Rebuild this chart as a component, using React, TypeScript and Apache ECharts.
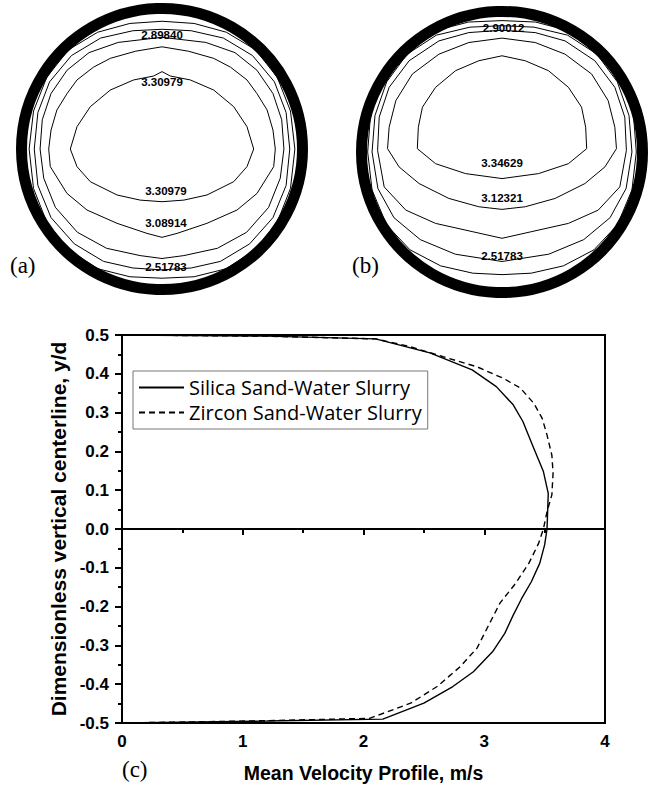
import React, { useEffect, useRef } from 'react';
import * as echarts from 'echarts';

// ---- Panel (c): velocity profiles [velocity m/s, y/d] ----
const silicaProfile: number[][] = [
  [0, 0.5], [1.2, 0.497], [2.1, 0.49], [2.55, 0.454], [2.9, 0.41], [3.1, 0.367], [3.24, 0.32],
  [3.32, 0.277], [3.41, 0.208], [3.49, 0.148], [3.53, 0.092], [3.52, 0.0], [3.5, -0.041],
  [3.46, -0.088], [3.39, -0.136], [3.31, -0.179], [3.24, -0.222], [3.17, -0.269], [3.07, -0.316],
  [2.91, -0.368], [2.74, -0.406], [2.5, -0.449], [2.16, -0.49], [1.2, -0.495], [0, -0.5],
];
const zirconProfile: number[][] = [
  [0, 0.5], [1.2, 0.497], [2.1, 0.49], [2.385, 0.47], [2.66, 0.444], [2.94, 0.418], [3.16, 0.388],
  [3.3, 0.363], [3.41, 0.324], [3.48, 0.285], [3.52, 0.242], [3.56, 0.19], [3.57, 0.144],
  [3.56, 0.088], [3.52, 0.045], [3.49, 0.0], [3.45, -0.037], [3.37, -0.088], [3.26, -0.14],
  [3.13, -0.191], [3.03, -0.252], [2.94, -0.307], [2.8, -0.355], [2.61, -0.406], [2.39, -0.449],
  [2.05, -0.488], [1.2, -0.494], [0, -0.5],
];
const seriesNames = ['Silica Sand-Water Slurry', 'Zircon Sand-Water Slurry'];

// ---- Panel (a): contour lines, normalised pipe coordinates ----
const contourA1 = [
  [-0.628, 0], [-0.582, 0.153], [-0.491, 0.29], [-0.354, 0.404], [-0.194, 0.473], [-0.057, 0.5],
  [0, 0.53], [0.057, 0.5], [0.194, 0.473], [0.354, 0.404], [0.491, 0.29], [0.582, 0.153],
  [0.628, 0], [0.582, -0.121], [0.491, -0.224], [0.308, -0.315], [0.15, -0.35], [0, -0.361],
  [-0.15, -0.35], [-0.308, -0.315], [-0.491, -0.224], [-0.582, -0.121], [-0.628, 0],
];
const contourA2 = [
  [-0.776, 0], [-0.76, 0.13], [-0.72, 0.267], [-0.65, 0.38], [-0.582, 0.473], [-0.47, 0.56],
  [-0.354, 0.621], [-0.18, 0.67], [0, 0.7], [0.18, 0.67], [0.354, 0.621], [0.47, 0.56],
  [0.582, 0.473], [0.65, 0.38], [0.72, 0.267], [0.76, 0.13], [0.776, 0], [0.765, -0.121],
  [0.651, -0.304], [0.514, -0.418], [0.308, -0.509], [0.103, -0.578], [0, -0.605],
  [-0.103, -0.578], [-0.308, -0.509], [-0.514, -0.418], [-0.651, -0.304], [-0.765, -0.121], [-0.776, 0],
];
const contourA3 = [
  [-0.835, 0], [-0.82, 0.2], [-0.76, 0.38], [-0.65, 0.54], [-0.5, 0.66], [-0.3, 0.73], [0, 0.765],
  [0.3, 0.73], [0.5, 0.66], [0.65, 0.54], [0.76, 0.38], [0.82, 0.2], [0.835, 0], [0.81, -0.2],
  [0.73, -0.4], [0.58, -0.57], [0.38, -0.68], [0.15, -0.73], [0, -0.75], [-0.15, -0.73],
  [-0.38, -0.68], [-0.58, -0.57], [-0.73, -0.4], [-0.81, -0.2], [-0.835, 0],
];
const contourA4 = [
  [-0.875, 0], [-0.85, 0.25], [-0.77, 0.46], [-0.62, 0.64], [-0.42, 0.76], [-0.2, 0.81], [0, 0.82],
  [0.2, 0.81], [0.42, 0.76], [0.62, 0.64], [0.77, 0.46], [0.85, 0.25], [0.875, 0], [0.85, -0.25],
  [0.76, -0.47], [0.6, -0.65], [0.4, -0.77], [0.2, -0.815], [0, -0.828], [-0.2, -0.815],
  [-0.4, -0.77], [-0.6, -0.65], [-0.76, -0.47], [-0.85, -0.25], [-0.875, 0],
];
const contourA5 = [
  [-0.91, 0], [-0.88, 0.26], [-0.79, 0.49], [-0.64, 0.68], [-0.44, 0.8], [-0.22, 0.86], [0, 0.875],
  [0.22, 0.86], [0.44, 0.8], [0.64, 0.68], [0.79, 0.49], [0.88, 0.26], [0.91, 0], [0.88, -0.27],
  [0.79, -0.5], [0.64, -0.69], [0.44, -0.82], [0.22, -0.875], [0, -0.885], [-0.22, -0.875],
  [-0.44, -0.82], [-0.64, -0.69], [-0.79, -0.5], [-0.88, -0.27], [-0.91, 0],
];
const contourLabelsA = [
  { name: '2.89840', value: [0, 0.78] },
  { name: '3.30979', value: [0, 0.461] },
  { name: '3.30979', value: [0.027, -0.285] },
  { name: '3.08914', value: [0.027, -0.505] },
  { name: '2.51783', value: [0.027, -0.806] },
];

// ---- Panel (b): contour lines ----
const contourB1 = [
  [-0.58, 0.023], [-0.573, 0.17], [-0.545, 0.307], [-0.455, 0.443], [-0.318, 0.557], [-0.159, 0.625],
  [0, 0.659], [0.159, 0.625], [0.318, 0.557], [0.455, 0.443], [0.545, 0.307], [0.573, 0.17],
  [0.58, 0.023], [0.455, -0.08], [0.25, -0.148], [0, -0.182], [-0.25, -0.148], [-0.455, -0.08], [-0.58, 0.023],
];
const contourB2 = [
  [-0.784, 0.023], [-0.773, 0.17], [-0.727, 0.352], [-0.614, 0.534], [-0.432, 0.67], [-0.227, 0.75],
  [0, 0.78], [0.227, 0.75], [0.432, 0.67], [0.614, 0.534], [0.727, 0.352], [0.773, 0.17],
  [0.784, 0.023], [0.705, -0.102], [0.568, -0.216], [0.364, -0.318], [0.159, -0.375], [0, -0.393],
  [-0.159, -0.375], [-0.364, -0.318], [-0.568, -0.216], [-0.705, -0.102], [-0.784, 0.023],
];
const contourB3 = [
  [-0.852, 0.011], [-0.841, 0.239], [-0.773, 0.443], [-0.636, 0.625], [-0.432, 0.761], [-0.227, 0.818],
  [0, 0.834], [0.227, 0.818], [0.432, 0.761], [0.636, 0.625], [0.773, 0.443], [0.841, 0.239],
  [0.852, 0.011], [0.807, -0.239], [0.659, -0.398], [0.455, -0.489], [0.205, -0.545], [0, -0.591],
  [-0.205, -0.545], [-0.455, -0.489], [-0.659, -0.398], [-0.807, -0.239], [-0.852, 0.011],
];
const contourB4 = [
  [-0.89, 0], [-0.87, 0.25], [-0.79, 0.48], [-0.65, 0.67], [-0.45, 0.8], [-0.22, 0.855], [0, 0.865],
  [0.22, 0.855], [0.45, 0.8], [0.65, 0.67], [0.79, 0.48], [0.87, 0.25], [0.89, 0], [0.85, -0.25],
  [0.74, -0.45], [0.56, -0.6], [0.32, -0.7], [0, -0.75], [-0.32, -0.7], [-0.56, -0.6], [-0.74, -0.45],
  [-0.85, -0.25], [-0.89, 0],
];
const contourB5 = [
  [-0.92, 0], [-0.9, 0.26], [-0.82, 0.5], [-0.67, 0.7], [-0.46, 0.83], [-0.23, 0.89], [0, 0.9],
  [0.23, 0.89], [0.46, 0.83], [0.67, 0.7], [0.82, 0.5], [0.9, 0.26], [0.92, 0], [0.89, -0.26],
  [0.79, -0.5], [0.63, -0.67], [0.42, -0.78], [0.2, -0.83], [0, -0.84], [-0.2, -0.83], [-0.42, -0.78],
  [-0.63, -0.67], [-0.79, -0.5], [-0.89, -0.26], [-0.92, 0],
];
const contourLabelsB = [
  { name: '2.90012', value: [0.011, 0.852] },
  { name: '3.34629', value: [0, -0.073] },
  { name: '3.12321', value: [0, -0.314] },
  { name: '2.51783', value: [0, -0.711] },
];
const pipeCentre = [[0, 0]];

const SANS = 'Liberation Sans, Arial, sans-serif';

function contourSeries(data: number[][], idx: number) {
  return {
    type: 'line', xAxisIndex: idx, yAxisIndex: idx, data, symbol: 'none', smooth: false,
    silent: true, lineStyle: { color: '#000', width: 1, opacity: 1 }, z: 3,
  };
}
function wallSeries(idx: number, size: number) {
  return {
    type: 'scatter', xAxisIndex: idx, yAxisIndex: idx, data: pipeCentre, symbol: 'circle',
    symbolSize: size, silent: true, clip: false,
    itemStyle: { color: 'rgba(255,255,255,0)', borderColor: '#000', borderWidth: 11, opacity: 1 }, z: 4,
  };
}
function labelSeries(data: any[], idx: number) {
  return {
    type: 'scatter', xAxisIndex: idx, yAxisIndex: idx, data, symbolSize: 1, silent: true,
    itemStyle: { color: 'rgba(255,255,255,0)', opacity: 1 }, z: 5,
    label: {
      show: true, position: 'inside', formatter: '{b}', color: '#000',
      fontSize: 11.5, fontWeight: 'bold', fontFamily: SANS,
    },
  };
}

export default function App() {
  const ref = useRef<HTMLDivElement>(null);
  useEffect(() => {
    if (!ref.current) return;
    const chart = echarts.init(ref.current, undefined, { renderer: 'svg' });
    const hiddenAxis = (gridIndex: number) => ({ type: 'value', gridIndex, min: -1, max: 1, show: false });
    chart.setOption({
      animation: false,
      backgroundColor: '#fff',
      grid: [
        { left: 16, top: 3, width: 292, height: 292 },
        { left: 356, top: 6, width: 292, height: 292 },
        { left: 122, top: 335, width: 483, height: 388, show: true, borderColor: '#000', borderWidth: 2, backgroundColor: 'transparent' },
      ],
      xAxis: [
        hiddenAxis(0), hiddenAxis(1),
        {
          type: 'value', gridIndex: 2, min: 0, max: 4, interval: 1,
          name: 'Mean Velocity Profile, m/s', nameLocation: 'middle', nameGap: 40,
          nameTextStyle: { fontSize: 19.5, fontWeight: 'bold', fontFamily: SANS, color: '#000' },
          axisLine: { show: true, lineStyle: { color: '#000', width: 2 } },
          axisTick: { show: true, length: 6, lineStyle: { color: '#000', width: 2 } },
          minorTick: { show: true, splitNumber: 2, length: 4, lineStyle: { color: '#000', width: 2 } },
          splitLine: { show: false },
          axisLabel: { margin: 10, fontSize: 17, fontWeight: 'bold', fontFamily: SANS, color: '#000' },
        },
      ],
      yAxis: [
        hiddenAxis(0), hiddenAxis(1),
        {
          type: 'value', gridIndex: 2, min: -0.5, max: 0.5, interval: 0.1,
          name: 'Dimensionless vertical centerline, y/d', nameLocation: 'middle', nameGap: 49, nameRotate: 90,
          nameTextStyle: { fontSize: 21, fontWeight: 'bold', fontFamily: SANS, color: '#000' },
          axisLine: { show: true, lineStyle: { color: '#000', width: 2 } },
          axisTick: { show: true, length: 7, lineStyle: { color: '#000', width: 2 } },
          minorTick: { show: true, splitNumber: 2, length: 4, lineStyle: { color: '#000', width: 2 } },
          splitLine: { show: false },
          axisLabel: {
            margin: 13, fontSize: 17, fontWeight: 'bold', fontFamily: SANS, color: '#000',
            formatter: (v: number) => (Math.abs(v) < 1e-9 ? '0.0' : v.toFixed(1)),
          },
        },
      ],
      legend: {
        data: seriesNames, orient: 'vertical', left: 133, top: 371,
        padding: [6, 6, 6, 5], itemGap: 4, itemWidth: 45, itemHeight: 14,
        borderColor: '#777', borderWidth: 1, backgroundColor: '#fff',
        itemStyle: { opacity: 0 },
        textStyle: { fontSize: 20, lineHeight: 21, fontFamily: 'Open Sans, sans-serif', color: '#000' },
      },
      series: [
        contourSeries(contourA1, 0), contourSeries(contourA2, 0), contourSeries(contourA3, 0),
        contourSeries(contourA4, 0), contourSeries(contourA5, 0), wallSeries(0, 281), labelSeries(contourLabelsA, 0),
        contourSeries(contourB1, 1), contourSeries(contourB2, 1), contourSeries(contourB3, 1),
        contourSeries(contourB4, 1), contourSeries(contourB5, 1), wallSeries(1, 281), labelSeries(contourLabelsB, 1),
        {
          name: seriesNames[0], type: 'line', xAxisIndex: 2, yAxisIndex: 2, data: silicaProfile,
          symbol: 'none', lineStyle: { color: '#000', width: 1.4, type: 'solid' }, itemStyle: { color: '#000' },
          markLine: {
            silent: true, symbol: 'none', label: { show: false },
            lineStyle: { color: '#000', width: 2, type: 'solid' }, data: [{ yAxis: 0 }],
          },
        },
        {
          name: seriesNames[1], type: 'line', xAxisIndex: 2, yAxisIndex: 2, data: zirconProfile,
          symbol: 'none', lineStyle: { color: '#000', width: 1.4, type: [6, 4] }, itemStyle: { color: '#000' },
        },
      ],
      graphic: [
        { type: 'text', left: 10, top: 254, style: { text: '(a)', fontSize: 23, fontFamily: 'Liberation Serif, serif', fill: '#000' } },
        { type: 'text', left: 352, top: 254, style: { text: '(b)', fontSize: 23, fontFamily: 'Liberation Serif, serif', fill: '#000' } },
        { type: 'text', left: 122, top: 758, style: { text: '(c)', fontSize: 23, fontFamily: 'Liberation Serif, serif', fill: '#000' } },
      ],
    });
    return () => chart.dispose();
  }, []);
  return <div ref={ref} style={{ position: 'absolute', left: 0, top: 0, width: 655, height: 788 }} />;
}
